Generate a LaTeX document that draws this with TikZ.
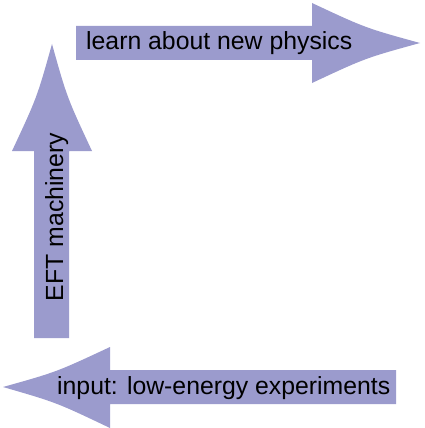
\documentclass[tikz,border=0pt]{standalone}
\usepackage{fontspec}
\setmainfont{Liberation Sans}
\definecolor{arrowfill}{RGB}{155,155,205}
\begin{document}
\begin{tikzpicture}[x=1pt,y=-1pt,
  bigarrow/.style={fill=arrowfill,draw=none},
  lbl/.style={inner sep=0pt,font=\fontsize{24.8}{30}\selectfont,text=black}]
\useasboundingbox (0,0) rectangle (424,428);
% top arrow (right)
\path[bigarrow] (76,26) -- (312,26) -- (312,3) .. controls (365.5,28) .. (420,43)
  .. controls (365.5,58) .. (312,83) -- (312,60) -- (76,60) -- cycle;
% vertical arrow (up)
\path[bigarrow] (34,338) -- (34,151) -- (12,151) .. controls (37,97.5) .. (52,44)
  .. controls (67,97.5) .. (92,151) -- (69,151) -- (69,338) -- cycle;
% bottom arrow (left)
\path[bigarrow] (396,370) -- (110,370) -- (110,347) .. controls (56.5,372) .. (3,387)
  .. controls (56.5,402.5) .. (110,428) -- (110,404) -- (396,404) -- cycle;
\node[lbl,anchor=base west] (top) at (86,50) {learn about new physics};
\node[lbl,anchor=base west] (bot) at (57,394) {input: low-energy experiments};
\node[lbl,anchor=base,rotate=90] (eft) at (63,217) {EFT machinery};
\end{tikzpicture}
\end{document}
